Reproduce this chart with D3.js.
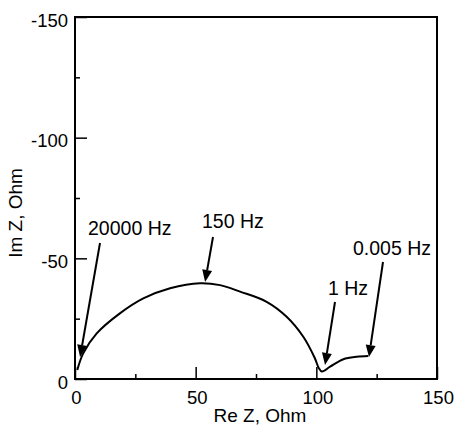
<!DOCTYPE html>
<html>
<head>
<meta charset="utf-8">
<script src="https://cdn.jsdelivr.net/npm/d3@7"></script>
<style>
  html, body { margin: 0; padding: 0; background: #fff; }
  svg { display: block; }
  text { font-family: "Liberation Sans", Arial, Helvetica, sans-serif; fill: #000; }
</style>
</head>
<body>
<svg id="chart" width="457" height="433"></svg>
<script>
// Impedance spectrum: real part vs imaginary part (Ohm)
const reZ = [0.95, 3.4, 9.0, 18.6, 28.3, 39.4, 51.8, 60.1, 68.4, 79.4, 87.7, 94.6, 99.3, 101.0, 102.3, 105.7, 111.2, 116.7, 121.5];
const imZ = [-3.7, -10.6, -18.9, -27.2, -33.4, -37.6, -39.7, -38.9, -36.2, -32.0, -25.8, -17.5, -8.8, -4.6, -3.1, -5.1, -8.2, -9.2, -9.5];

// Frequency markers and the point each arrow points at
const freqLabels = ["20000 Hz", "150 Hz", "1 Hz", "0.005 Hz"];
const freqRe = [2.1, 53.9, 103.6, 121.8];
const freqIm = [-9.1, -40.2, -5.8, -9.1];

// Axis ticks
const xMajorTicks = [0, 50, 100, 150];
const xMinorTicks = [25, 75, 125];
const yMajorTicks = [0, -50, -100, -150];
const yMinorTicks = [-25, -75, -125];

const svg = d3.select("#chart");
const plotL = 75, plotR = 437, plotT = 17, plotB = 379;

const x = d3.scaleLinear().domain([0, 150]).range([plotL, plotR]);
const y = d3.scaleLinear().domain([0, -150]).range([plotB, plotT]);

// minor ticks
svg.append("g").attr("transform", `translate(0,${plotB})`)
  .call(d3.axisBottom(x).tickValues(xMinorTicks).tickSize(-5).tickFormat(""))
  .call(g => g.select(".domain").remove())
  .call(g => g.selectAll("line").attr("stroke-width", 1.5));
svg.append("g").attr("transform", `translate(${plotL},0)`)
  .call(d3.axisLeft(y).tickValues(yMinorTicks).tickSize(-5).tickFormat(""))
  .call(g => g.select(".domain").remove())
  .call(g => g.selectAll("line").attr("stroke-width", 1.5));

// major ticks with labels
svg.append("g").attr("transform", `translate(0,${plotB})`)
  .call(d3.axisBottom(x).tickValues(xMajorTicks).tickSize(-12).tickPadding(12).tickFormat(d3.format("d")))
  .call(g => g.select(".domain").remove())
  .call(g => g.selectAll("line").attr("stroke-width", 1.5))
  .call(g => g.selectAll("text").attr("font-size", 18.5).attr("font-family", null).attr("dx", "1px"));
svg.append("g").attr("transform", `translate(${plotL},0)`)
  .call(d3.axisLeft(y).tickValues(yMajorTicks).tickSize(-12).tickPadding(7).tickFormat(d => d === 0 ? "0" : "-" + Math.abs(d)))
  .call(g => g.select(".domain").remove())
  .call(g => g.selectAll("line").attr("stroke-width", 1.5))
  .call(g => g.selectAll("text").attr("font-size", 18.5).attr("font-family", null).attr("dy", "0.5em"));

// plot frame
svg.append("rect")
  .attr("x", plotL).attr("y", plotT)
  .attr("width", plotR - plotL).attr("height", plotB - plotT)
  .attr("fill", "none").attr("stroke", "#000").attr("stroke-width", 2);

// spectrum curve
const pts = reZ.map((r, i) => [r, imZ[i]]);
svg.append("path")
  .datum(pts)
  .attr("fill", "none")
  .attr("stroke", "#000")
  .attr("stroke-width", 2)
  .attr("d", d3.line().x(d => x(d[0])).y(d => y(d[1])).curve(d3.curveCatmullRom.alpha(0.5)));

// axis titles
svg.append("text")
  .attr("x", 260).attr("y", 422)
  .attr("text-anchor", "middle").attr("font-size", 19)
  .text("Re Z, Ohm");
svg.append("text")
  .attr("transform", "translate(22,213) rotate(-90)")
  .attr("text-anchor", "middle").attr("font-size", 19)
  .text("Im Z, Ohm");

// frequency annotations: label text position and arrow tail
const labelPos = [[88, 235, 100, 243], [202, 228, 213, 237], [328, 295, 335, 302], [353, 255, 383, 262]];
const headLen = 12, headHalf = 5;
freqLabels.forEach((lab, i) => {
  const [tx, ty, ax, ay] = labelPos[i];
  const px = x(freqRe[i]), py = y(freqIm[i]);
  svg.append("text")
    .attr("x", tx).attr("y", ty)
    .attr("font-size", 19.5)
    .text(lab);
  const dx = px - ax, dy = py - ay;
  const len = Math.hypot(dx, dy);
  const ux = dx / len, uy = dy / len;
  const bx = px - ux * headLen, by = py - uy * headLen;
  svg.append("line")
    .attr("x1", ax).attr("y1", ay).attr("x2", bx).attr("y2", by)
    .attr("stroke", "#000").attr("stroke-width", 2);
  svg.append("path")
    .attr("d", `M${px},${py}L${bx - uy * headHalf},${by + ux * headHalf}L${bx + uy * headHalf},${by - ux * headHalf}Z`)
    .attr("fill", "#000");
});
</script>
</body>
</html>
